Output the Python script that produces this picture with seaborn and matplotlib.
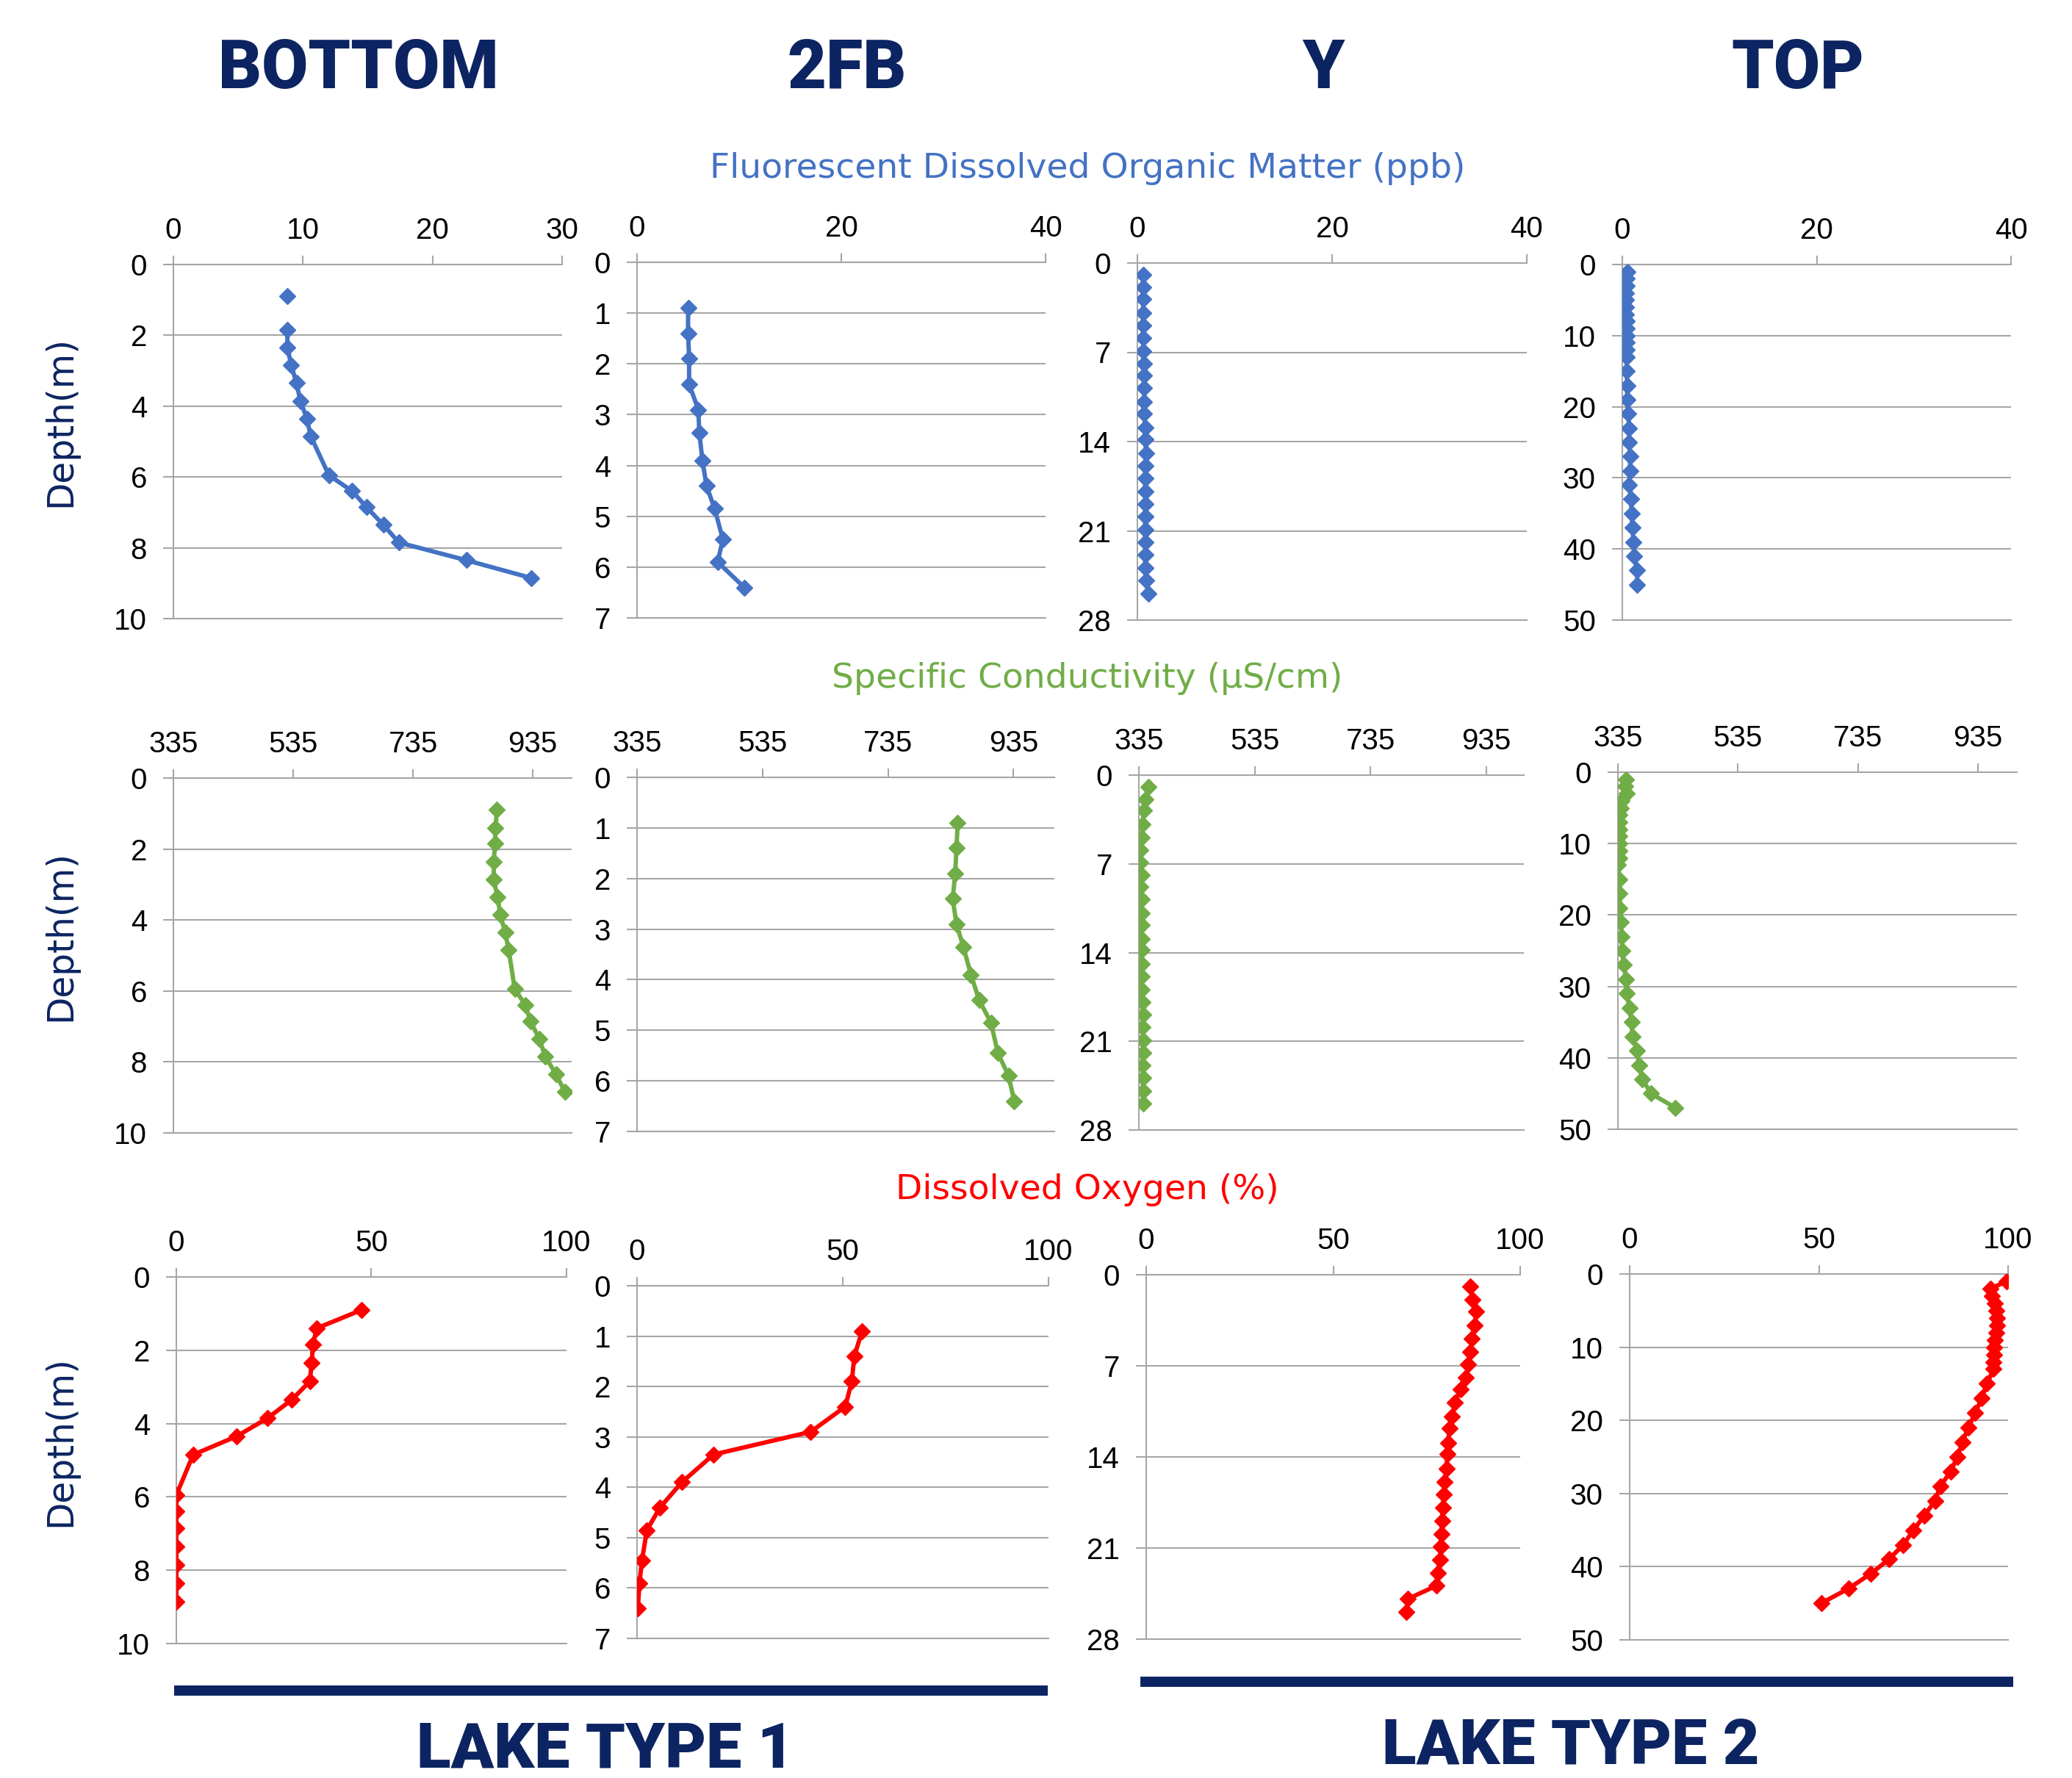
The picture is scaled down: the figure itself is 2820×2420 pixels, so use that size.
import numpy as np
import pandas as pd
import matplotlib
matplotlib.use("Agg")
import matplotlib.pyplot as plt
import seaborn as sns

# depth profiles (depth in m)
depth_bottom = [0.9, 1.4, 1.85, 2.35, 2.85, 3.35, 3.85, 4.35, 4.85, 5.95, 6.4, 6.85, 7.35, 7.85, 8.35, 8.85]
depth_2fb = [0.9, 1.4, 1.9, 2.4, 2.9, 3.35, 3.9, 4.4, 4.85, 5.45, 5.9, 6.4]
depth_y = [0.9, 1.9, 2.8, 3.9, 4.9, 5.9, 6.9, 7.9, 8.8, 9.8, 10.9, 11.8, 12.9,
           13.8, 14.9, 15.9, 16.9, 17.9, 18.9, 19.9, 20.9, 21.9, 22.9, 23.9, 24.9, 25.9]
depth_top = [1, 2, 3, 4, 5, 6, 7, 8, 9, 10, 11, 12, 13, 15, 17, 19, 21, 23, 25,
             27, 29, 31, 33, 35, 37, 39, 41, 43, 45]
depth_top_spc = [1, 2, 3, 4, 5, 6, 7, 8, 9, 10, 11, 12, 13, 15, 17, 19, 21, 23, 25,
                 27, 29, 31, 33, 35, 37, 39, 41, 43, 45, 47]

# Fluorescent dissolved organic matter (ppb)
fdom_bottom = [8.8, np.nan, 8.8, 8.8, 9.1, 9.5, 9.8, 10.3, 10.6, 12.0, 13.8, 14.9, 16.2, 17.4, 22.6, 27.6]
fdom_2fb = [5.0, 5.0, 5.1, 5.1, 6.0, 6.1, 6.4, 6.8, 7.6, 8.4, 7.9, 10.5]
fdom_y = [0.6, 0.6, 0.6, 0.6, 0.6, 0.6, 0.6, 0.7, 0.7, 0.7, 0.7, 0.7, 0.8,
          0.8, 0.9, 0.8, 0.8, 0.8, 0.8, 0.8, 0.8, 0.8, 0.8, 0.8, 0.9, 1.1]
fdom_top = [0.5, 0.45, 0.45, 0.35, 0.35, 0.35, 0.35, 0.45, 0.45, 0.45, 0.45, 0.45, 0.45,
            0.45, 0.5, 0.5, 0.6, 0.7, 0.7, 0.8, 0.8, 0.7, 0.9, 0.95, 1.05, 1.15, 1.2, 1.5, 1.55]

# Specific conductivity (uS/cm)
spc_bottom = [875, 873, 872, 870, 870, 876, 881, 889, 895, 905, 923, 931, 946, 956, 974, 989]
spc_2fb = [846, 844, 842, 838, 844, 855, 867, 880, 899, 910, 927, 936]
spc_y = [351, 347, 344, 341, 340, 338, 338, 340, 338, 340, 340, 340, 340,
         340, 340, 340, 340, 341, 342, 341, 342, 342, 341, 342, 342, 342]
spc_top = [348, 347, 350, 341, 340, 338, 338, 338, 338, 338, 338, 337, 335, 338, 338,
           338, 340, 341, 342, 345, 348, 350, 354, 358, 359, 367, 370, 376, 390, 431]

# Dissolved oxygen (%)
do_bottom = [47.5, 36.0, 35.0, 34.7, 34.2, 29.6, 23.4, 15.4, 4.3, 0.0, 0.0, 0.0, 0.0, 0.0, 0.0, 0.0]
do_2fb = [54.7, 52.8, 52.2, 50.6, 42.2, 18.6, 10.9, 5.6, 2.4, 1.2, 0.6, 0.2]
do_y = [86.7, 87.3, 88.3, 87.9, 87.0, 86.7, 86.1, 85.5, 84.0, 82.6, 81.8, 81.1, 80.7,
        80.5, 80.3, 79.8, 79.6, 79.3, 79.1, 78.9, 78.8, 78.5, 77.9, 77.6, 70.0, 69.5]
do_top = [99.7, 95.3, 95.7, 96.6, 96.9, 97.1, 97.1, 96.8, 96.6, 96.4, 96.3, 96.2, 96.2, 94.4,
          93.0, 91.3, 89.5, 87.9, 86.6, 84.8, 82.1, 80.7, 77.9, 75.0, 72.3, 68.5, 63.6, 57.8, 50.6]

lakes = ["BOTTOM", "2FB", "Y", "TOP"]
row_titles = ["Fluorescent Dissolved Organic Matter (ppb)",
              "Specific Conductivity (\u00b5S/cm)",
              "Dissolved Oxygen (%)"]
depth_ticks = [[0, 2, 4, 6, 8, 10], [0, 1, 2, 3, 4, 5, 6, 7],
               [0, 7, 14, 21, 28], [0, 10, 20, 30, 40, 50]]
fdom_ticks = [[0, 10, 20, 30], [0, 20, 40], [0, 20, 40], [0, 20, 40]]
spc_ticks = [335, 535, 735, 935]
do_ticks = [0, 50, 100]

rows = [
    dict(values=[fdom_bottom, fdom_2fb, fdom_y, fdom_top],
         depths=[depth_bottom, depth_2fb, depth_y, depth_top],
         xticks=fdom_ticks, xlims=[(0, 30), (0, 40), (0, 40), (0, 40)], color="#4472C4"),
    dict(values=[spc_bottom, spc_2fb, spc_y, spc_top],
         depths=[depth_bottom, depth_2fb, depth_y, depth_top_spc],
         xticks=[spc_ticks] * 4, xlims=[(335, 1000)] * 4, color="#70AD47"),
    dict(values=[do_bottom, do_2fb, do_y, do_top],
         depths=[depth_bottom, depth_2fb, depth_y, depth_top],
         xticks=[do_ticks] * 4, xlims=[(0, 100)] * 4, color="#FF0000"),
]

# panel plot areas in pixels (left, top, right, bottom)
boxes = [
    [(236, 360, 765, 842), (867, 357, 1423, 841), (1548, 358, 2078, 844), (2208, 360, 2737, 844)],
    [(236, 1059, 778, 1542), (867, 1058, 1435, 1540), (1550, 1055, 2074, 1538), (2202, 1051, 2745, 1537)],
    [(240, 1738, 771, 2237), (867, 1750, 1427, 2230), (1560, 1735, 2069, 2231), (2218, 1734, 2733, 2232)],
]
row_title_y = [230, 924, 1620]
depth_label_y = [573, 1274, 1961]

W, H = 2820, 2420
NAVY = "#0C2461"
GRID = "#A6A6A6"

sns.set_style("white")
plt.rcParams["font.family"] = ["Liberation Sans", "DejaVu Sans"]

fig = plt.figure(figsize=(W / 100, H / 100), dpi=100)

for r, row in enumerate(rows):
    for c in range(4):
        l, t, rr, b = boxes[r][c]
        ax = fig.add_axes([l / W, 1 - b / H, (rr - l) / W, (b - t) / H])
        df = pd.DataFrame({"depth": row["depths"][c], "value": row["values"][c]})
        # gaps in the record break the line into separate pieces
        df["piece"] = df["value"].isna().cumsum()
        df = df.dropna()
        sns.lineplot(data=df, x="value", y="depth", units="piece", estimator=None,
                     sort=False, orient="y", color=row["color"], linewidth=4.3,
                     marker="D", markersize=11.5, markeredgecolor=row["color"],
                     markeredgewidth=1, ax=ax, zorder=3)
        ax.set_xlim(*row["xlims"][c])
        ax.set_xticks(row["xticks"][c])
        ax.set_ylim(depth_ticks[c][-1], 0)
        ax.set_yticks(depth_ticks[c])
        ax.set_xlabel("")
        ax.set_ylabel("")
        ax.xaxis.tick_top()
        ax.tick_params(axis="x", direction="out", length=8.5, width=1.5, color=GRID,
                       pad=11, labelsize=29, labelcolor="black", top=True, bottom=False)
        ax.tick_params(axis="y", direction="out", length=10, width=1.5, color=GRID,
                       pad=16, labelsize=29, labelcolor="black", left=True)
        ax.grid(axis="y", color=GRID, linewidth=1.5)
        ax.grid(axis="x", visible=False)
        ax.set_axisbelow(True)
        for side in ["left", "top", "bottom"]:
            ax.spines[side].set_color(GRID)
            ax.spines[side].set_linewidth(1.5)
        ax.spines["right"].set_visible(False)

    fig.text(1480 / W, 1 - row_title_y[r] / H, row_titles[r], color=row["color"],
             fontsize=34, family="DejaVu Sans", ha="center", va="center")
    fig.text(82 / W, 1 - depth_label_y[r] / H, "Depth(m)", color=NAVY, fontsize=35,
             family="DejaVu Sans", rotation=90, ha="center", va="center")

# column headings
col_x = [488, 1153, 1801, 2447]
for name, x in zip(lakes, col_x):
    fig.text(x / W, 1 - 120 / H, name, color=NAVY, fontsize=66, family="Roboto",
             fontweight="black", ha="center", va="baseline")

# lake type bars and labels
fig.add_artist(plt.Line2D([237 / W, 1426 / W], [1 - 2301 / H] * 2, color=NAVY,
                          linewidth=10, solid_capstyle="butt"))
fig.add_artist(plt.Line2D([1552 / W, 2740 / W], [1 - 2289 / H] * 2, color=NAVY,
                          linewidth=10, solid_capstyle="butt"))
fig.text(824 / W, 1 - 2405 / H, "LAKE TYPE 1", color=NAVY, fontsize=62, family="Roboto",
         fontweight="black", ha="center", va="baseline")
fig.text(2138 / W, 1 - 2401 / H, "LAKE TYPE 2", color=NAVY, fontsize=62, family="Roboto",
         fontweight="black", ha="center", va="baseline")

fig.savefig("out.png", dpi=100, facecolor="white")
